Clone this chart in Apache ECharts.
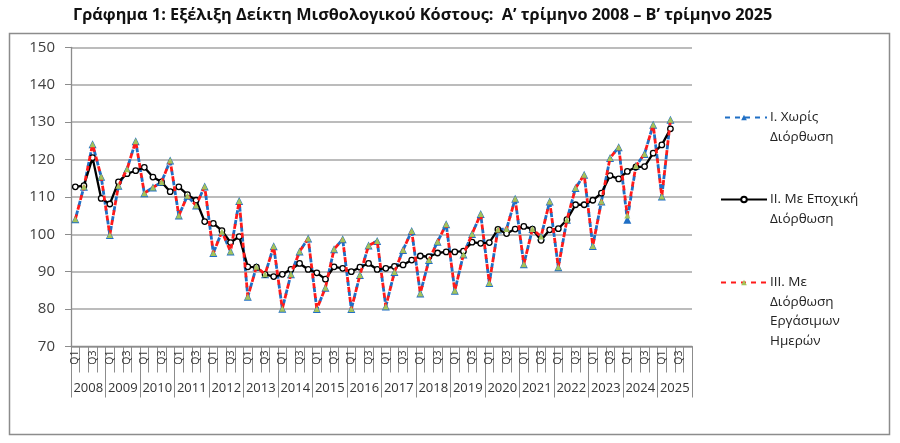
<!DOCTYPE html>
<html>
<head>
<meta charset="utf-8">
<style>
    html, body { margin: 0; padding: 0; background: #fff; }
    #main { width: 900px; height: 443px; }
</style>
<script src="https://cdn.jsdelivr.net/npm/echarts@6/dist/echarts.min.js"></script>
</head>
<body>
<div id="main"></div>
<script>
    // άξονες
    var years = ['2008', '2009', '2010', '2011', '2012', '2013', '2014', '2015', '2016',
        '2017', '2018', '2019', '2020', '2021', '2022', '2023', '2024', '2025'];
    var quarterNames = ['Q1', 'Q2', 'Q3', 'Q4'];
    var yTicks = [70, 80, 90, 100, 110, 120, 130, 140, 150];

    // I. Χωρίς Διόρθωση
    var seriesI = [
        104.0, 112.7, 124.1, 115.4, 99.8, 113.0, 117.4, 124.9,
        111.0, 112.5, 114.0, 119.7, 105.0, 110.3, 107.7, 112.8,
        95.0, 100.7, 95.4, 108.9, 83.3, 91.3, 89.3, 96.8,
        80.1, 89.3, 95.4, 98.9, 80.0, 85.7, 96.0, 98.7,
        80.0, 89.1, 97.0, 98.2, 80.7, 89.9, 95.8, 100.9,
        84.2, 93.1, 98.0, 102.7, 84.9, 94.6, 100.1, 105.4,
        87.0, 101.3, 101.4, 109.5, 92.0, 101.4, 99.4, 108.8,
        91.2, 103.9, 112.4, 115.9, 96.9, 108.8, 120.4, 123.3,
        103.9, 118.3, 121.5, 129.3, 110.1, 130.6
    ];
    // II. Με Εποχική Διόρθωση
    var seriesII = [
        112.7, 113.0, 120.5, 109.6, 108.1, 114.0, 116.2, 117.0,
        117.9, 115.3, 114.0, 111.4, 112.7, 110.6, 109.1, 103.4,
        102.9, 101.0, 97.8, 99.4, 91.3, 91.2, 89.3, 88.7,
        89.3, 90.6, 92.2, 90.6, 89.7, 88.0, 91.3, 90.9,
        90.0, 91.2, 92.2, 90.6, 90.9, 91.4, 91.8, 93.1,
        94.2, 94.0, 95.0, 95.3, 95.3, 95.5, 97.9, 97.6,
        97.8, 101.3, 100.2, 101.4, 102.1, 101.4, 98.4, 101.2,
        101.5, 103.9, 107.9, 107.9, 109.1, 111.0, 115.7, 114.8,
        116.8, 118.0, 118.1, 121.7, 123.9, 128.2
    ];
    // III. Με Διόρθωση Εργάσιμων Ημερών
    var seriesIII = [
        104.0, 112.7, 124.1, 115.4, 99.8, 113.0, 117.4, 124.9,
        111.0, 112.5, 114.0, 119.7, 105.0, 110.3, 107.7, 112.8,
        95.0, 100.7, 95.4, 108.9, 83.3, 91.3, 89.3, 96.8,
        80.1, 89.3, 95.4, 98.9, 80.0, 85.7, 96.0, 98.7,
        80.0, 89.1, 97.0, 98.2, 80.7, 89.9, 95.8, 100.9,
        84.2, 93.1, 98.0, 102.7, 84.9, 94.6, 100.1, 105.4,
        87.0, 101.3, 101.4, 109.5, 92.0, 101.4, 99.4, 108.8,
        91.2, 103.9, 112.4, 115.9, 96.9, 108.8, 120.4, 123.3,
        105.0, 118.3, 121.5, 129.3, 110.1, 130.6
    ];

    var nameI = 'I. Χωρίς Διόρθωση';
    var nameII = 'II. Με Εποχική Διόρθωση';
    var nameIII = 'III. Με Διόρθωση Εργάσιμων Ημερών';
    // γραμμές κειμένου του υπομνήματος
    var legendLines = {};
    legendLines[nameI] = ['I. Χωρίς', 'Διόρθωση'];
    legendLines[nameII] = ['II. Με Εποχική', 'Διόρθωση'];
    legendLines[nameIII] = ['III. Με', 'Διόρθωση', 'Εργάσιμων', 'Ημερών'];

    var quarters = [];
    years.forEach(function () {
        quarterNames.forEach(function (q) { quarters.push(q); });
    });

    var font = 'Open Sans';
    var lineH = 19.5;

    // το εικονίδιο στη πρώτη γραμμή: κενές γραμμές από πάνω
    function legendText(name) {
        var lines = legendLines[name];
        var pad = [];
        for (var i = 1; i < lines.length; i++) pad.push('');
        return pad.concat(lines).join('\n');
    }
    function legendFor(name, iconY) {
        var n = legendLines[name].length;
        return {
            data: [name],
            orient: 'vertical',
            left: 720,
            top: iconY - (n - 1) * lineH - lineH / 2,
            padding: 0,
            itemWidth: 46,
            itemHeight: 7,
            itemGap: 0,
            formatter: legendText,
            textStyle: { fontFamily: font, fontSize: 13.5, color: '#222', lineHeight: lineH, padding: [0, 0, 0, -2] }
        };
    }

    var myChart = echarts.init(document.getElementById('main'));

    var option = {
        animation: false,
        title: {
            text: 'Γράφημα 1: Εξέλιξη Δείκτη Μισθολογικού Κόστους:  Α’ τρίμηνο 2008 – Β’ τρίμηνο 2025',
            left: 73,
            top: 7,
            padding: 0,
            textStyle: { fontFamily: font, fontWeight: 'bold', fontSize: 16.3, color: '#111' }
        },
        graphic: [{
            type: 'rect',
            shape: { x: 9.5, y: 33.5, width: 880, height: 401 },
            style: { fill: 'none', stroke: '#8c8c8c', lineWidth: 1.5 },
            silent: true
        }],
        legend: [
            legendFor(nameI, 117.5),
            legendFor(nameII, 199.5),
            legendFor(nameIII, 282.5)
        ],
        grid: { left: 71, right: 208, top: 47.3, bottom: 96.5 },
        xAxis: [{
            type: 'category',
            data: quarters,
            boundaryGap: true,
            axisLine: { show: true, lineStyle: { color: '#8c8c8c', width: 1.3 } },
            axisTick: { show: true, interval: 0, length: 26, lineStyle: { color: '#8c8c8c', width: 1 } },
            axisLabel: {
                interval: 1,
                rotate: 90,
                margin: 4,
                fontFamily: font,
                fontSize: 10.5,
                color: '#333'
            },
            splitLine: { show: false }
        }, {
            type: 'category',
            data: years,
            position: 'bottom',
            offset: 0,
            boundaryGap: true,
            axisLine: { show: false },
            axisTick: { show: true, interval: 0, length: 51, lineStyle: { color: '#8c8c8c', width: 1 } },
            axisLabel: {
                interval: 0,
                margin: 35,
                fontFamily: font,
                fontSize: 13,
                color: '#333'
            },
            splitLine: { show: false }
        }],
        yAxis: {
            type: 'value',
            min: yTicks[0],
            max: yTicks[yTicks.length - 1],
            interval: 10,
            axisLine: { show: true, lineStyle: { color: '#8c8c8c', width: 1.3 } },
            axisTick: { show: true, length: 6, lineStyle: { color: '#8c8c8c' } },
            axisLabel: { margin: 16, fontFamily: font, fontSize: 15, color: '#404040' },
            splitLine: { show: true, lineStyle: { color: '#a6a6a6', width: 1.5 } }
        },
        series: [{
            name: nameI,
            type: 'line',
            xAxisIndex: 0,
            data: seriesI,
            symbol: 'triangle',
            symbolSize: 8,
            itemStyle: { color: '#1f6fc5' },
            lineStyle: { color: '#1f6fc5', width: 2.8, type: [5, 5], dashOffset: 6 },
            z: 2
        }, {
            name: nameII,
            type: 'line',
            xAxisIndex: 0,
            data: seriesII,
            symbol: 'circle',
            symbolSize: 5.5,
            itemStyle: { color: '#fff', borderColor: '#000', borderWidth: 1.3 },
            lineStyle: { color: '#000', width: 2.3 },
            z: 3
        }, {
            name: nameIII,
            type: 'line',
            xAxisIndex: 0,
            data: seriesIII,
            symbol: 'triangle',
            symbolSize: 6,
            itemStyle: { color: '#a4c35a' },
            lineStyle: { color: '#ff1a1a', width: 2.8, type: [5, 5], dashOffset: 0 },
            z: 4
        }]
    };
    option.series.forEach(function (s) { s.showAllSymbol = true; });
    myChart.setOption(option);
</script>
</body>
</html>
